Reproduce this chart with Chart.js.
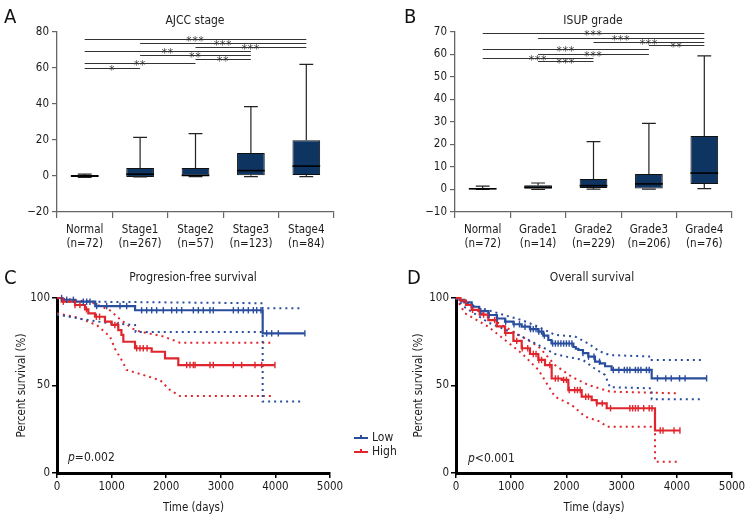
<!DOCTYPE html>
<html>
<head>
<meta charset="utf-8">
<script src="https://cdn.jsdelivr.net/npm/chart.js@4.4.1/dist/chart.umd.min.js"></script>
<style>
body { margin: 0; background: #fff; width: 756px; height: 528px; position: relative; overflow: hidden;
       font-family: 'Liberation Sans Narrow', 'DejaVu Sans Condensed', 'Roboto Condensed', sans-serif; color: #222; }
.panel { position: absolute; }
.txt { position: absolute; white-space: nowrap; line-height: 14px; font-size: 12px; }
.letter { position: absolute; font-size: 20px; line-height: 20px; color: #111; }
.title { position: absolute; width: 200px; text-align: center; font-size: 12px; line-height: 14px; }
</style>
</head>
<body>
<div class="panel" style="left:0;top:0;width:378px;height:260px"><canvas id="chartA"></canvas></div>
<div class="panel" style="left:378px;top:0;width:378px;height:260px"><canvas id="chartB"></canvas></div>
<div class="panel" style="left:0;top:260px;width:400px;height:268px"><canvas id="chartC"></canvas></div>
<div class="panel" style="left:380px;top:260px;width:376px;height:268px"><canvas id="chartD"></canvas></div>

<div class="letter" style="left:4px;top:6px">A</div>
<div class="letter" style="left:404px;top:6px">B</div>
<div class="letter" style="left:4px;top:267px">C</div>
<div class="letter" style="left:407px;top:267px">D</div>
<div class="title" style="left:95px;top:13px">AJCC stage</div>
<div class="title" style="left:493px;top:13px">ISUP grade</div>
<div class="title" style="left:93px;top:270px">Progresion-free survival</div>
<div class="title" style="left:492px;top:270px">Overall survival</div>
<div class="txt" style="left:68px;top:450px"><i>p</i>=0.002</div>
<div class="txt" style="left:468px;top:451px"><i>p</i>&lt;0.001</div>

<script>
const FONT = "'Liberation Sans Narrow', 'DejaVu Sans Condensed', 'Roboto Condensed', sans-serif";
Chart.defaults.font.family = FONT;
Chart.defaults.font.size = 11.5;
Chart.defaults.color = '#1a1a1a';

// ---- Panel A: AJCC stage
const ajccLabels = [['Normal', '(n=72)'], ['Stage1', '(n=267)'], ['Stage2', '(n=57)'], ['Stage3', '(n=123)'], ['Stage4', '(n=84)']];
const ajccMin = [-0.8, -0.5, -0.3, -0.3, -0.3];
const ajccQ1 = [-0.6, -0.5, 0, 0.4, 0.6];
const ajccMedian = [0, 1, 0.3, 3, 5.5];
const ajccQ3 = [0.5, 4.5, 4.5, 12.8, 19.8];
const ajccMax = [1, 21.5, 23.5, 38.5, 62];
const ajccTicks = [-20, 0, 20, 40, 60, 80];
const ajccPairFrom = [0, 0, 2, 1, 0, 2, 1, 0];
const ajccPairTo = [1, 2, 3, 3, 3, 4, 4, 4];
const ajccPairY = [60.2, 62.6, 64.8, 67.2, 69.4, 71.8, 73.7, 76];
const ajccPairStars = ['*', '**', '**', '**', '**', '***', '***', '***'];

// ---- Panel B: ISUP grade
const isupLabels = [['Normal', '(n=72)'], ['Grade1', '(n=14)'], ['Grade2', '(n=229)'], ['Grade3', '(n=206)'], ['Grade4', '(n=76)']];
const isupMin = [0, 0, 0.2, 0.2, 0.4];
const isupQ1 = [0, 0.3, 0.7, 0.4, 2.5];
const isupMedian = [0.3, 1, 1.7, 2.5, 7.3];
const isupQ3 = [0.6, 1.9, 4.7, 6.9, 23.8];
const isupMax = [1.5, 2.9, 21.3, 29.4, 59.4];
const isupTicks = [-10, 0, 10, 20, 30, 40, 50, 60, 70];
const isupPairFrom = [1, 0, 1, 0, 2, 3, 1, 0];
const isupPairTo = [2, 2, 3, 3, 4, 4, 4, 4];
const isupPairY = [56.9, 58.5, 60.4, 62.5, 65.7, 64, 67.5, 69.4];
const isupPairStars = ['***', '***', '***', '***', '***', '**', '***', '***'];

// ---- Panel C: progression-free survival (days, %)
const pfsLowTime = [0, 100, 330, 700, 1430, 3767, 4540];
const pfsLowSurv = [100, 99, 97.9, 95.4, 93, 79.8, 79.8];
const pfsLowUpTime = [0, 200, 3767, 3767, 4480];
const pfsLowUpper = [100, 98, 97, 94.1, 94.1];
const pfsLowLoTime = [0, 150, 450, 760, 1000, 1430, 1440, 3767, 3767, 4480];
const pfsLowLower = [90.5, 89.7, 88, 86.5, 85.5, 84.6, 80.6, 80.6, 40.8, 40.8];
const pfsLowCensor = [85, 177, 300, 482, 543, 604, 726, 910, 1154, 1276, 1550, 1642, 1734, 1825, 1947, 2100, 2191, 2283,
  2497, 2589, 2680, 2802, 2863, 3230, 3321, 3413, 3504, 3596, 3657, 3736, 3840, 3932, 4054, 4540];
const pfsHighTime = [0, 85, 330, 513, 574, 696, 879, 1001, 1123, 1180, 1215, 1429, 1734, 1978, 2222, 3990];
const pfsHighSurv = [100, 97.9, 96, 93.5, 91.2, 89.3, 86.5, 84.6, 81.7, 78.9, 75, 71.3, 69.3, 65.5, 61.7, 61.7];
const pfsHighUpTime = [0, 600, 970, 1150, 1370, 1520, 1950, 2250, 3956];
const pfsHighUpper = [100, 97.9, 93, 88, 82.7, 80.8, 78, 74.5, 74.5];
const pfsHighLoTime = [0, 360, 726, 970, 1062, 1185, 1276, 1580, 1890, 2070, 2250, 3956];
const pfsHighLower = [91.2, 89, 84.6, 78, 71, 64.5, 58.9, 56, 53, 47.4, 44, 44];
const pfsHighCensor = [116, 330, 420, 540, 720, 780, 1060, 1120, 1459, 1520, 1580, 1650, 2375, 2436, 2497, 2528, 2802, 2863,
  3230, 3382, 3626, 3748, 3992];

// ---- Panel D: overall survival (days, %)
const osLowTime = [0, 60, 150, 284, 420, 585, 740, 888, 1040, 1190, 1340, 1491, 1580, 1672, 1730, 2126, 2170, 2216, 2300,
  2397, 2518, 2609, 2700, 2819, 3545, 4540];
const osLowSurv = [100, 99, 97.5, 95, 92.5, 90.3, 88.3, 86.5, 85, 83.6, 82.2, 80.8, 78.5, 76, 74, 72, 71, 70.3, 68.5,
  66.5, 63.6, 62.7, 61, 58.9, 54.1, 54.1];
const osLowUpTime = [0, 284, 585, 900, 1190, 1491, 1793, 2156, 2397, 2600, 2790, 3545, 3545, 4480];
const osLowUpper = [100, 96, 93, 90, 87.4, 83.6, 78.9, 78, 74, 69.5, 67.4, 66.5, 64.6, 64.6];
const osLowLoTime = [0, 163, 585, 1190, 1491, 1793, 2000, 2300, 2500, 2700, 2790, 3545, 3545, 4480];
const osLowLower = [100, 94.6, 86, 78, 73.2, 68, 66.5, 64.6, 60, 56, 49, 48.4, 42.1, 42.1];
const osLowCensor = [300, 450, 600, 750, 900, 1050, 1150, 1250, 1350, 1400, 1450, 1500, 1550, 1600, 1750, 1800, 1850,
  1900, 1950, 2000, 2050, 2100, 2300, 2400, 2500, 2600, 2850, 2950, 3050, 3100, 3150, 3250, 3300, 3350, 3450, 3500,
  3650, 3800, 3900, 4050, 4150, 4540];
const osHighTime = [0, 80, 180, 284, 430, 585, 740, 888, 1040, 1190, 1340, 1491, 1612, 1733, 1914, 2035, 2277, 2458,
  2549, 2730, 3605, 4057];
const osHighSurv = [100, 98.5, 96, 93.2, 90.5, 87.4, 83.8, 80, 75.5, 71.3, 68, 64.6, 61.7, 54, 53.2, 47.4, 43.6, 41.7,
  39.8, 37, 24.3, 24.3];
const osHighUpTime = [0, 284, 585, 1190, 1491, 1793, 2095, 2397, 2790, 4015];
const osHighUpper = [100, 95, 89, 78, 72.4, 61.7, 55, 50.3, 46.5, 45.5];
const osHighLoTime = [0, 163, 585, 1190, 1491, 1793, 2095, 2337, 2609, 2730, 3605, 3605, 4057];
const osHighLower = [100, 91.2, 83.6, 68.4, 59, 43.6, 38.9, 32.2, 29.4, 26.5, 26.5, 6.5, 6.5];
const osHighCensor = [300, 500, 700, 900, 1100, 1200, 1300, 1400, 1450, 1500, 1550, 1700, 1800, 1850, 1950, 2000, 2050,
  2150, 2200, 2250, 2350, 2400, 2550, 2650, 2800, 3150, 3200, 3250, 3300, 3400, 3500, 3550, 3700, 3750, 3950, 4057];

const survTicks = [0, 50, 100];
const timeTicks = [0, 1000, 2000, 3000, 4000, 5000];

const NAVY = '#0e3462';
const BLUE = '#2a4e9e';
const RED = '#e0262c';

// whiskers, medians and significance lines on top of the floating bars
const boxExtras = {
  id: 'boxExtras',
  afterDatasetsDraw(chart, args, o) {
    const ctx = chart.ctx;
    const x = chart.scales.x, y = chart.scales.y;
    const bars = chart.getDatasetMeta(0).data;
    ctx.save();
    ctx.strokeStyle = '#222';
    bars.forEach((bar, i) => {
      const cx = x.getPixelForValue(i);
      const half = bar.width / 2;
      const top = y.getPixelForValue(o.q3[i]);
      const bot = y.getPixelForValue(o.q1[i]);
      const hi = y.getPixelForValue(o.max[i]);
      const lo = y.getPixelForValue(o.min[i]);
      ctx.lineWidth = 1.2;
      ctx.beginPath();
      ctx.moveTo(cx, top); ctx.lineTo(cx, hi);
      ctx.moveTo(cx - half / 2, hi); ctx.lineTo(cx + half / 2, hi);
      ctx.moveTo(cx, bot); ctx.lineTo(cx, lo);
      ctx.moveTo(cx - half / 2, lo); ctx.lineTo(cx + half / 2, lo);
      ctx.stroke();
      ctx.lineWidth = 1.6;
      ctx.strokeStyle = '#000';
      const m = y.getPixelForValue(o.median[i]);
      ctx.beginPath();
      ctx.moveTo(cx - half, m); ctx.lineTo(cx + half, m);
      ctx.stroke();
      ctx.strokeStyle = '#222';
    });
    ctx.font = '11.5px ' + FONT;
    ctx.letterSpacing = '1px';
    ctx.textAlign = 'center';
    ctx.textBaseline = 'alphabetic';
    ctx.fillStyle = '#333';
    o.from.forEach((f, k) => {
      const x1 = x.getPixelForValue(f), x2 = x.getPixelForValue(o.to[k]);
      const py = Math.round(y.getPixelForValue(o.yv[k])) + 0.5;
      ctx.strokeStyle = '#333';
      ctx.lineWidth = 1;
      ctx.beginPath();
      ctx.moveTo(x1, py); ctx.lineTo(x2, py);
      ctx.stroke();
      ctx.fillText(o.stars[k], (x1 + x2) / 2, py + 5);
    });
    ctx.restore();
  }
};

function boxChart(id, labels, mins, q1, med, q3, maxs, ticks, pFrom, pTo, pY, pStars, axisW, padR) {
  return new Chart(document.getElementById(id), {
    type: 'bar',
    data: {
      labels: labels,
      datasets: [{
        data: q1.map((v, i) => [v, q3[i]]),
        backgroundColor: NAVY,
        borderColor: '#111',
        borderWidth: 1,
        borderSkipped: false,
        barPercentage: 0.5,
        categoryPercentage: 1
      }]
    },
    options: {
      responsive: true,
      maintainAspectRatio: false,
      animation: false,
      devicePixelRatio: 1,
      layout: { padding: { left: 0, right: padR, top: 32, bottom: 0 } },
      plugins: {
        legend: { display: false },
        tooltip: { enabled: false },
        boxExtras: { min: mins, q1: q1, median: med, q3: q3, max: maxs, from: pFrom, to: pTo, yv: pY, stars: pStars }
      },
      scales: {
        x: {
          offset: true,
          grid: { offset: true, drawOnChartArea: false, tickLength: 6, color: '#666', lineWidth: 1.2 },
          border: { color: '#666', width: 1.3 },
          ticks: { padding: 5, maxRotation: 0, autoSkip: false, font: { size: 11.5 } },
          afterFit(s) { s.height = 48; }
        },
        y: {
          min: ticks[0],
          max: ticks[ticks.length - 1],
          afterBuildTicks(s) { s.ticks = ticks.map(v => ({ value: v })); },
          ticks: { padding: 3, font: { size: 11.5 }, callback: v => String(v).replace('-', '\u2212') },
          grid: { drawOnChartArea: false, tickLength: 5, color: '#666', lineWidth: 1.2 },
          border: { color: '#666', width: 1.3 },
          afterFit(s) { s.width = axisW; }
        }
      }
    },
    plugins: [boxExtras]
  });
}

boxChart('chartA', ajccLabels, ajccMin, ajccQ1, ajccMedian, ajccQ3, ajccMax, ajccTicks,
  ajccPairFrom, ajccPairTo, ajccPairY, ajccPairStars, 57, 44);
boxChart('chartB', isupLabels, isupMin, isupQ1, isupMedian, isupQ3, isupMax, isupTicks,
  isupPairFrom, isupPairTo, isupPairY, isupPairStars, 77, 24);

// ---- survival panels
function pts(times, vals) {
  return times.map((t, i) => ({ x: t, y: vals[i] }));
}
function stepValue(times, vals, t) {
  let v = vals[0];
  for (let i = 0; i < times.length; i++) {
    if (times[i] <= t) v = vals[i];
  }
  return v;
}
function curve(times, vals, color) {
  return { data: pts(times, vals), borderColor: color, borderWidth: 2.2, stepped: true, pointRadius: 0, clip: false, order: 1 };
}
function band(times, vals, color) {
  return { data: pts(times, vals), borderColor: color, borderWidth: 2, borderDash: [2, 4], pointRadius: 0, clip: false, order: 2 };
}
function censor(cens, times, vals, color) {
  return {
    data: cens.map(t => ({ x: t, y: stepValue(times, vals, t) })),
    showLine: false, pointStyle: 'line', rotation: 90, pointRadius: 3.2,
    borderColor: color, pointBorderWidth: 1.4, clip: false, order: 0
  };
}

const survLegend = {
  id: 'survLegend',
  afterDraw(chart, args, o) {
    if (!o.show) return;
    const ctx = chart.ctx;
    ctx.save();
    ctx.font = '12px ' + FONT;
    ctx.textBaseline = 'middle';
    [['Low', BLUE, 178], ['High', RED, 192]].forEach(([name, color, yy]) => {
      ctx.strokeStyle = color;
      ctx.lineWidth = 2;
      ctx.beginPath();
      ctx.moveTo(354, yy); ctx.lineTo(368, yy);
      ctx.moveTo(361, yy); ctx.lineTo(361, yy - 3);
      ctx.stroke();
      ctx.fillStyle = '#222';
      ctx.fillText(name, 372, yy);
    });
    ctx.restore();
  }
};

function survChart(id, sets, padL, axisW, padR, legend) {
  return new Chart(document.getElementById(id), {
    type: 'line',
    data: { datasets: sets },
    options: {
      responsive: true,
      maintainAspectRatio: false,
      animation: false,
      devicePixelRatio: 1,
      layout: { padding: { left: padL, right: padR, top: 38, bottom: 13 } },
      plugins: { legend: { display: false }, tooltip: { enabled: false }, survLegend: { show: legend } },
      scales: {
        x: {
          type: 'linear', min: 0, max: 5000,
          afterBuildTicks(s) { s.ticks = timeTicks.map(v => ({ value: v })); },
          ticks: { padding: 2, font: { size: 11.5 }, callback: v => String(v) },
          grid: { drawOnChartArea: false, tickLength: 5, color: '#000', lineWidth: 1.5 },
          border: { color: '#000', width: 3 },
          title: { display: true, text: 'Time (days)', font: { size: 11.5 }, padding: 0 },
          afterFit(s) { s.height = 42; }
        },
        y: {
          min: 0, max: 100,
          afterBuildTicks(s) { s.ticks = survTicks.map(v => ({ value: v })); },
          ticks: { padding: 2, font: { size: 11.5 } },
          grid: { drawOnChartArea: false, tickLength: 5, color: '#000', lineWidth: 1.5 },
          border: { color: '#000', width: 3 },
          title: { display: true, text: 'Percent survival (%)', font: { size: 11.5 }, padding: 0 },
          afterFit(s) { s.width = axisW; }
        }
      }
    },
    plugins: [survLegend]
  });
}

survChart('chartC', [
  band(pfsLowUpTime, pfsLowUpper, BLUE),
  band(pfsLowLoTime, pfsLowLower, BLUE),
  band(pfsHighUpTime, pfsHighUpper, RED),
  band(pfsHighLoTime, pfsHighLower, RED),
  curve(pfsHighTime, pfsHighSurv, RED),
  curve(pfsLowTime, pfsLowSurv, BLUE),
  censor(pfsHighCensor, pfsHighTime, pfsHighSurv, RED),
  censor(pfsLowCensor, pfsLowTime, pfsLowSurv, BLUE)
], 15, 42, 70, true);

survChart('chartD', [
  band(osLowUpTime, osLowUpper, BLUE),
  band(osLowLoTime, osLowLower, BLUE),
  band(osHighUpTime, osHighUpper, RED),
  band(osHighLoTime, osHighLower, RED),
  curve(osHighTime, osHighSurv, RED),
  curve(osLowTime, osLowSurv, BLUE),
  censor(osHighCensor, osHighTime, osHighSurv, RED),
  censor(osLowCensor, osLowTime, osLowSurv, BLUE)
], 32, 44, 24, false);
</script>
</body>
</html>
